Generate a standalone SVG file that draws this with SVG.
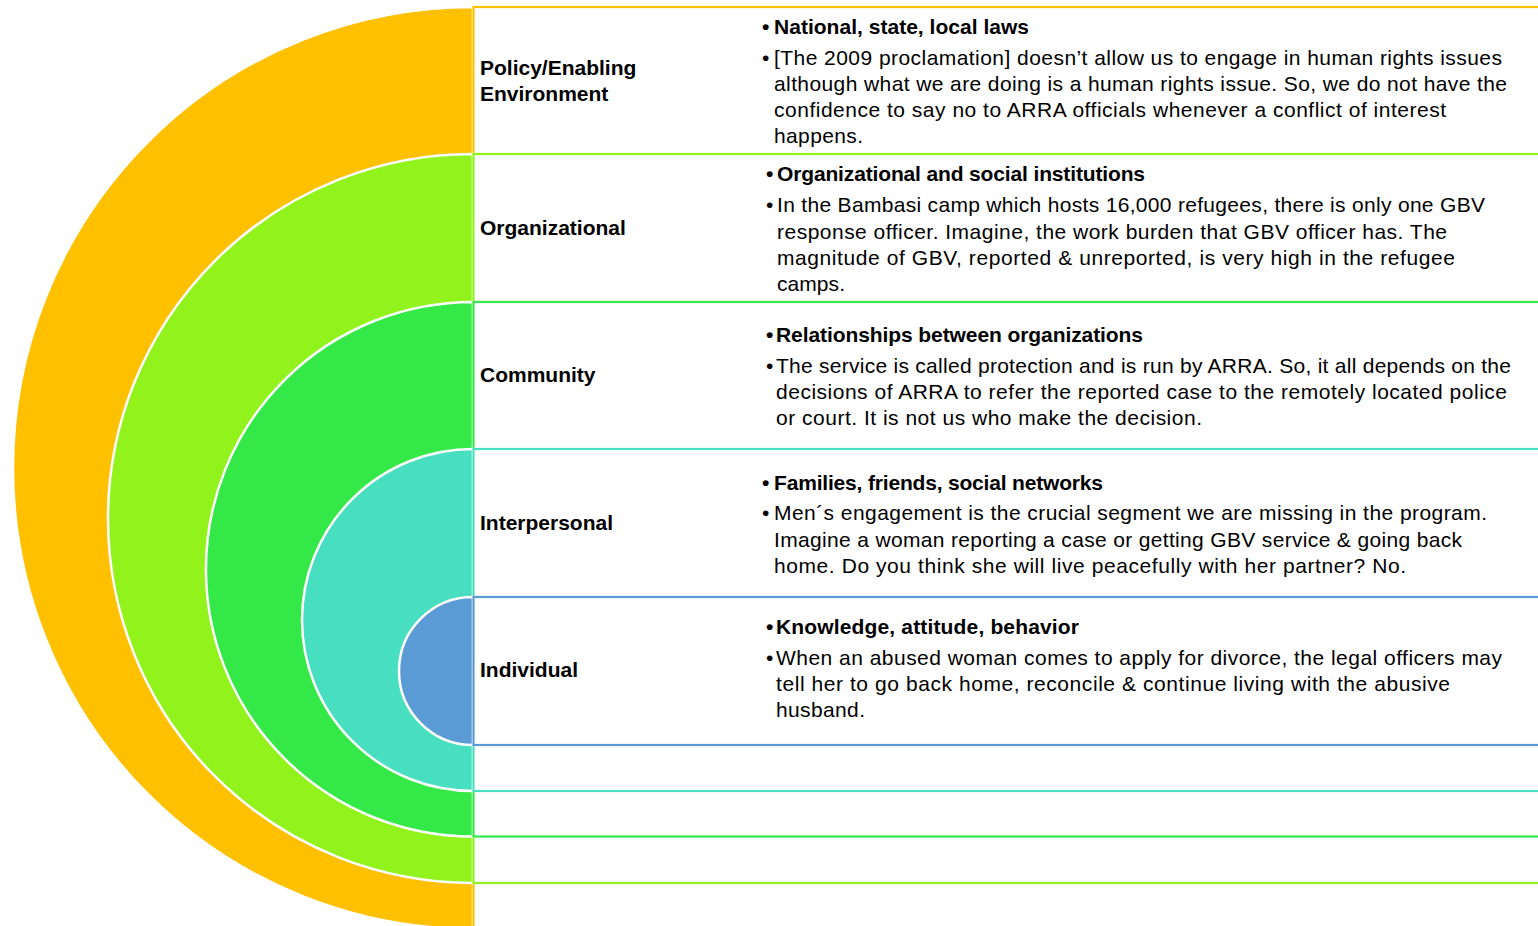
<svg xmlns="http://www.w3.org/2000/svg" width="1538" height="926" viewBox="0 0 1538 926">
<style>
.arc{stroke:#FFFFFF;stroke-width:2.5}
.box{fill:#FFFFFF;stroke-width:2.2}
text{font-family:"Liberation Sans",Arial,sans-serif;font-size:21px;fill:#000000}
.lbl{font-weight:bold}
.hd{font-weight:bold}
</style>
<rect x="0" y="0" width="1538" height="926" fill="#FFFFFF"/>
<g id="connectors"/>
<g id="policy">
<path class="arc" fill="#FFC000" d="M473,7 A460,461 0 0 0 473,929 Z"/>
<rect class="box" stroke="#FFC000" x="473.5" y="7" width="1100" height="922"/>
<text class="lbl" x="480" y="75">Policy/Enabling</text>
<text class="lbl" x="480" y="101">Environment</text>
<text class="hd" x="762" y="34">•</text>
<text class="hd" x="774" y="34" textLength="255">National, state, local laws</text>
<text x="762" y="65">•</text>
<text x="774" y="65" textLength="728">[The 2009 proclamation] doesn’t allow us to engage in human rights issues</text>
<text x="774" y="91" textLength="733">although what we are doing is a human rights issue. So, we do not have the</text>
<text x="774" y="117" textLength="672">confidence to say no to ARRA officials whenever a conflict of interest</text>
<text x="774" y="143" textLength="89">happens.</text>
</g>
<g id="organizational">
<path class="arc" fill="#92F31C" d="M473,154 A365,364.5 0 0 0 473,883 Z"/>
<rect class="box" stroke="#92F31C" x="473.5" y="154" width="1100" height="729"/>
<text class="lbl" x="480" y="235">Organizational</text>
<text class="hd" x="766" y="181">•</text>
<text class="hd" x="777" y="181" textLength="368">Organizational and social institutions</text>
<text x="766" y="212">•</text>
<text x="777" y="212" textLength="708">In the Bambasi camp which hosts 16,000 refugees, there is only one GBV</text>
<text x="777" y="238.5" textLength="670">response officer. Imagine, the work burden that GBV officer has. The</text>
<text x="777" y="265" textLength="678">magnitude of GBV, reported &amp; unreported, is very high in the refugee</text>
<text x="777" y="291" textLength="68">camps.</text>
</g>
<g id="community">
<path class="arc" fill="#33E847" d="M473,302 A267,267.2 0 0 0 473,836.5 Z"/>
<rect class="box" stroke="#33E847" x="473.5" y="302" width="1100" height="534.5"/>
<text class="lbl" x="480" y="382">Community</text>
<text class="hd" x="766" y="342">•</text>
<text class="hd" x="776" y="342" textLength="367">Relationships between organizations</text>
<text x="766" y="373">•</text>
<text x="776" y="373" textLength="735">The service is called protection and is run by ARRA. So, it all depends on the</text>
<text x="776" y="399" textLength="731">decisions of ARRA to refer the reported case to the remotely located police</text>
<text x="776" y="425" textLength="426">or court. It is not us who make the decision.</text>
</g>
<g id="interpersonal">
<path class="arc" fill="#48DFC1" d="M473,449 A171,171 0 0 0 473,791 Z"/>
<rect class="box" stroke="#48DFC1" x="473.5" y="449" width="1100" height="342"/>
<text class="lbl" x="480" y="530">Interpersonal</text>
<text class="hd" x="762" y="489.5">•</text>
<text class="hd" x="774" y="489.5" textLength="329">Families, friends, social networks</text>
<text x="762" y="520">•</text>
<text x="774" y="520" textLength="713">Men´s engagement is the crucial segment we are missing in the program.</text>
<text x="774" y="546.5" textLength="688">Imagine a woman reporting a case or getting GBV service &amp; going back</text>
<text x="774" y="573" textLength="632">home. Do you think she will live peacefully with her partner? No.</text>
</g>
<g id="individual">
<path class="arc" fill="#5B9BD5" d="M473,597 A74,74 0 0 0 473,745 Z"/>
<rect class="box" stroke="#5B9BD5" x="473.5" y="597" width="1100" height="148"/>
<text class="lbl" x="480" y="677">Individual</text>
<text class="hd" x="766" y="633.5">•</text>
<text class="hd" x="776" y="633.5" textLength="303">Knowledge, attitude, behavior</text>
<text x="766" y="665">•</text>
<text x="776" y="665" textLength="726">When an abused woman comes to apply for divorce, the legal officers may</text>
<text x="776" y="691" textLength="674">tell her to go back home, reconcile &amp; continue living with the abusive</text>
<text x="776" y="717" textLength="89">husband.</text>
</g>
</svg>
